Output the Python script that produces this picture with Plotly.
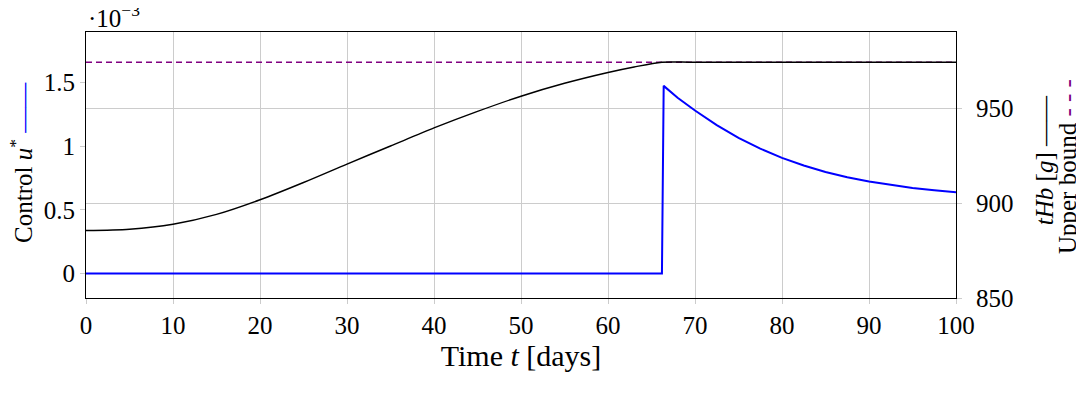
import plotly.graph_objects as go

# Time axis (days) and total haemoglobin tHb [g]
t_hb = [0, 5, 10, 15, 20, 25, 30, 35, 40, 45, 50, 55, 60, 63, 66.2, 70, 100]
thb_values = [885.5, 886.2, 888.8, 894.0, 901.7, 910.8, 920.5, 930.0, 939.5,
              948.2, 956.2, 963.0, 968.7, 971.6, 974.1, 974.1, 974.1]

# Control u*
t_u = [0, 66.2, 66.4, 68, 70, 72.5, 75, 77.5, 80, 82.5, 85, 87.5, 90,
       92.5, 95, 97.5, 100]
u_values = [0, 0, 1.473e-3, 1.380e-3, 1.280e-3, 1.165e-3, 1.065e-3, 0.980e-3,
            0.9075e-3, 0.8475e-3, 0.7975e-3, 0.756e-3, 0.722e-3, 0.6945e-3,
            0.672e-3, 0.653e-3, 0.637e-3]

# Upper bound of tHb
t_bound = [0, 100]
bound_values = [974.1, 974.1]

x_ticks = [0, 10, 20, 30, 40, 50, 60, 70, 80, 90, 100]
left_tickvals = [0, 0.5e-3, 1e-3, 1.5e-3]
left_ticktext = ["0", "0.5", "1", "1.5"]
right_tickvals = [850, 900, 950]

FONT = "Liberation Serif"
GRID = "#cccccc"
FS = 25
PLOT_L, PLOT_W = 86, 870.5

fig = go.Figure()
fig.add_trace(go.Scatter(x=t_bound, y=bound_values, yaxis="y2", mode="lines",
                         line=dict(color="#800080", width=1.5, dash="6px,4px"),
                         showlegend=False, hoverinfo="skip"))
fig.add_trace(go.Scatter(x=t_hb, y=thb_values, yaxis="y2", mode="lines",
                         line=dict(color="black", width=1.4, shape="spline", smoothing=0.8),
                         showlegend=False))
fig.add_trace(go.Scatter(x=t_u, y=u_values, yaxis="y", mode="lines",
                         line=dict(color="#0000ff", width=2),
                         showlegend=False))

fig.update_layout(
    width=1076, height=386,
    margin=dict(l=78, r=127.5, t=24, b=95.5, autoexpand=False),
    paper_bgcolor="white", plot_bgcolor="white",
    font=dict(family=FONT, size=FS, color="black"),
    xaxis=dict(range=[0, 100], tickvals=x_ticks, showgrid=True, gridcolor=GRID,
               gridwidth=1, zeroline=False, showline=True, linecolor="black",
               linewidth=1, mirror=True, ticks="outside", ticklen=5,
               tickcolor=GRID, automargin=False,
               title=dict(text="Time <i>t</i> [days]", standoff=5)),
    yaxis=dict(range=[-0.1925e-3, 1.896e-3], tickvals=left_tickvals,
               ticktext=left_ticktext, showgrid=False, zeroline=False,
               showline=True, linecolor="black", linewidth=1,
               ticks="outside", ticklen=5, tickcolor=GRID, automargin=False),
    yaxis2=dict(range=[850, 990], tickvals=right_tickvals, overlaying="y",
                side="right", showgrid=True, gridcolor=GRID, gridwidth=1,
                zeroline=False, showline=True, linecolor="black", linewidth=1,
                ticks="outside", ticklen=5, tickcolor=GRID, automargin=False,
                ticklabelstandoff=9),
    annotations=[
        dict(text="·10<sup>−3</sup>", xref="paper", yref="paper",
             x=0, y=1, xanchor="left", yanchor="bottom",
             showarrow=False, font=dict(family=FONT, size=FS),
             xshift=0, yshift=-2),
        dict(text="Control <i>u</i><sup>*</sup> <span style='color:#0000ff'>——</span>",
             xref="paper", yref="paper",
             x=(21 - PLOT_L) / PLOT_W, y=0.508, xanchor="center", yanchor="middle",
             textangle=-90, showarrow=False, font=dict(family=FONT, size=FS)),
        dict(text="<i>tHb</i> [<i>g</i>] <span style='color:black'>——</span>",
             xref="paper", yref="paper",
             x=(1045 - PLOT_L) / PLOT_W, y=0.52, xanchor="center", yanchor="middle",
             textangle=-90, showarrow=False, font=dict(family=FONT, size=FS)),
        dict(text="Upper bound <span style='color:#800080'>- - -</span>",
             xref="paper", yref="paper",
             x=(1068 - PLOT_L) / PLOT_W, y=0.494, xanchor="center", yanchor="middle",
             textangle=-90, showarrow=False, font=dict(family=FONT, size=FS)),
    ],
)

fig.write_html("out.html")
